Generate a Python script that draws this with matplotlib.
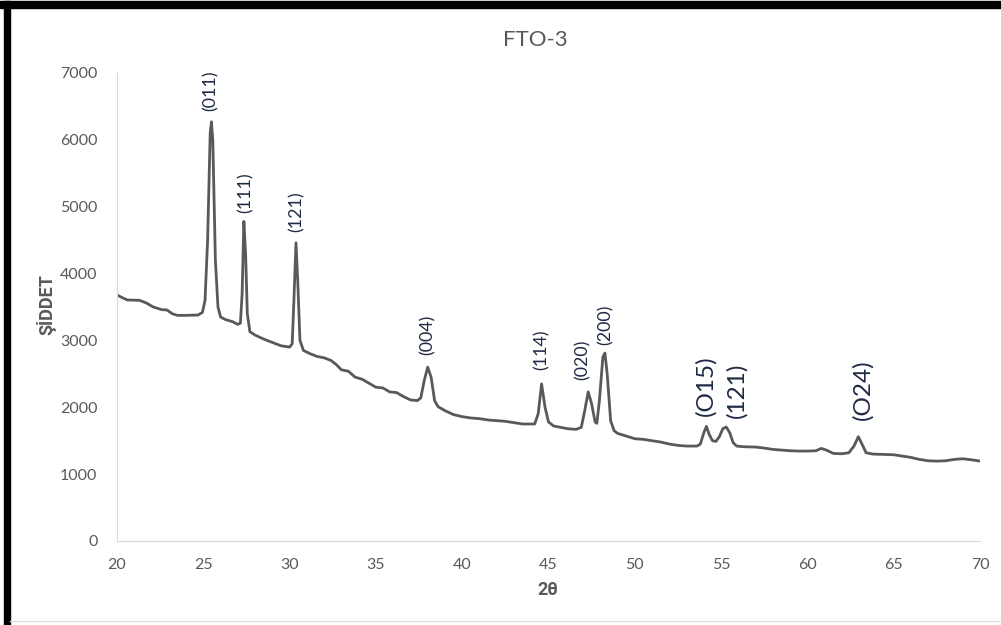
import matplotlib.pyplot as plt
from matplotlib.patches import Rectangle
from matplotlib.lines import Line2D

# XRD pattern
two_theta = [20.0, 20.3, 20.6, 21.3, 21.7, 22.1, 22.6, 22.9, 23.2, 23.5, 24.0, 24.7,
             24.95, 25.1, 25.25, 25.4, 25.47, 25.55, 25.7, 25.85, 26.0, 26.3, 26.7, 27.0,
             27.15, 27.25, 27.35, 27.45, 27.55, 27.7, 28.0, 28.5, 29.0, 29.5, 30.0,
             30.15, 30.25, 30.37, 30.47, 30.6, 30.8, 31.2, 31.6, 32.0, 32.4, 32.7, 33.0,
             33.4, 33.8, 34.2, 34.6, 35.0, 35.4, 35.8, 36.2, 36.6, 37.0, 37.4, 37.6,
             37.8, 38.0, 38.2, 38.4, 38.6, 39.0, 39.5, 40.0, 40.5, 41.0, 41.5, 42.0,
             42.5, 43.0, 43.5, 44.2, 44.4, 44.6, 44.8, 45.0, 45.3, 45.7, 46.1, 46.6,
             46.9, 47.1, 47.3, 47.5, 47.7, 47.8, 47.95, 48.15, 48.27, 48.4, 48.6, 48.8,
             49.0, 49.5, 50.0, 50.5, 51.0, 51.5, 52.0, 52.5, 53.0, 53.6, 53.8, 54.0,
             54.15, 54.3, 54.5, 54.7, 54.9, 55.1, 55.3, 55.5, 55.7, 55.9, 56.3, 57.0,
             57.5, 58.0, 58.5, 59.0, 59.5, 60.0, 60.5, 60.8, 61.1, 61.5, 62.0, 62.4,
             62.7, 62.95, 63.2, 63.4, 63.8, 64.5, 65.0, 65.5, 66.0, 66.5, 67.0, 67.5,
             68.0, 68.5, 69.0, 69.5, 70.0]
intensity = [3680, 3640, 3605, 3600, 3560, 3500, 3460, 3455, 3400, 3375, 3375, 3380,
             3420, 3600, 4500, 6100, 6270, 6000, 4200, 3500, 3350, 3310, 3280, 3240,
             3260, 3700, 4780, 4300, 3400, 3130, 3080, 3020, 2970, 2920, 2900,
             2950, 3600, 4460, 3900, 3000, 2850, 2800, 2760, 2740, 2700, 2640, 2560,
             2540, 2450, 2420, 2360, 2300, 2290, 2230, 2220, 2160, 2110, 2100, 2140,
             2400, 2600, 2450, 2100, 2010, 1950, 1890, 1860, 1840, 1830, 1810, 1800,
             1790, 1770, 1750, 1750, 1900, 2350, 2000, 1780, 1720, 1700, 1680, 1670,
             1700, 1950, 2230, 2050, 1780, 1760, 2100, 2750, 2810, 2500, 1800, 1650,
             1610, 1570, 1530, 1520, 1500, 1480, 1450, 1430, 1420, 1420, 1450, 1620,
             1715, 1600, 1500, 1490, 1560, 1680, 1705, 1620, 1470, 1420, 1410, 1405,
             1390, 1370, 1360, 1350, 1345, 1345, 1350, 1385, 1360, 1310, 1305, 1320,
             1420, 1560, 1430, 1320, 1300, 1295, 1290, 1270, 1250, 1220, 1200, 1195,
             1200, 1220, 1230, 1215, 1195]

# peak labels
peak_labels = ['(011)', '(111)', '(121)', '(004)', '(114)', '(020)', '(200)',
               '(O15)', '(121)', '(O24)']
label_x = [25.45, 27.47, 30.43, 38.0, 44.6, 47.0, 48.3, 54.1, 55.9, 63.2]
label_y = [6730, 5205, 4920, 3080, 2857, 2707, 3230, 2330, 2260, 2260]
label_big = [False, False, False, False, False, False, False, True, True, True]

plt.rcParams['font.family'] = ['Lato', 'DejaVu Sans']
bold_fam = ['Roboto', 'DejaVu Sans']

fig = plt.figure(figsize=(10.01, 6.25), dpi=100)
ax = fig.add_axes([117 / 1001, 84 / 625, 863 / 1001, 468 / 625])

ax.plot(two_theta, intensity, color='#595959', lw=2.0, solid_joinstyle='round')

for t, x, y, big in zip(peak_labels, label_x, label_y, label_big):
    ax.text(x, y, t, rotation=90, ha='center', va='center',
            fontsize=17.5 if big else 12.8, color='#1f2a44')

ax.set_xlim(20, 70)
ax.set_ylim(0, 7000)
ax.set_xticks(range(20, 71, 5))
ax.set_yticks(range(0, 7001, 1000))
ax.tick_params(length=0, labelsize=11.5, labelcolor='#595959')
ax.tick_params(axis='x', pad=12)
ax.tick_params(axis='y', pad=14)
for s in ['top', 'right']:
    ax.spines[s].set_visible(False)
ax.spines['left'].set_color('#d9d9d9')
ax.spines['bottom'].set_color('#d9d9d9')

fig.text(535 / 1001, 1 - 40 / 625, 'FTO-3', ha='center', va='center',
         fontsize=16, color='#595959')
fig.text(548 / 1001, 1 - 590 / 625, '2θ', ha='center', va='center', family=bold_fam,
         fontsize=13, fontweight='bold', color='#595959')
fig.text(46 / 1001, 1 - 305 / 625, 'ŞİDDET', ha='center', va='center', rotation=90,
         family=bold_fam, fontsize=13, fontweight='bold', color='#595959')

# frame around the screenshot
fig.patches.append(Rectangle((0, 617), 1001, 7, transform=None, color='black'))
fig.patches.append(Rectangle((4, 0), 6, 624, transform=None, color='black'))
fig.lines.append(Line2D([10, 1001], [4, 4], transform=None, color='#e0e0e0', lw=1))

fig.savefig('out.png', dpi=100)
